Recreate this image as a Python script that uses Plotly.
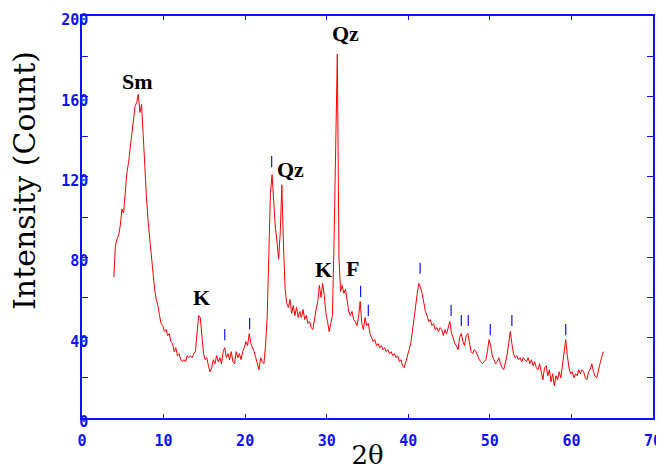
import plotly.graph_objects as go

# XRD pattern: intensity sampled every 0.2 deg 2-theta starting at 3.9
two_theta_start = 3.9
two_theta_step = 0.2
intensity = [
    70, 86, 89, 91, 96, 104, 102, 113, 122, 127,
    134, 141, 149, 155, 157, 161, 152, 156, 141, 124,
    110, 98, 89, 80, 71, 64, 59, 56, 51, 47,
    46, 43, 44, 41, 42, 38, 37, 33, 35, 31,
    32, 29, 28, 29, 28, 31, 30, 31, 30, 32,
    33, 42, 51, 50, 40, 32, 29, 30, 26, 23,
    25, 29, 27, 31, 28, 30, 27, 33, 35, 30,
    32, 29, 33, 28, 27, 33, 30, 32, 29, 33,
    35, 38, 36, 42, 37, 35, 33, 30, 27, 24,
    30, 28, 27, 36, 50, 78, 112, 121, 106, 95,
    88, 79, 92, 116, 86, 64, 57, 55, 59, 52,
    56, 51, 55, 50, 53, 50, 54, 49, 51, 47,
    48, 45, 44, 50, 54, 58, 66, 60, 67, 61,
    52, 48, 43, 47, 51, 88, 145, 181, 80, 63,
    66, 62, 64, 57, 53, 51, 53, 49, 48, 46,
    50, 58, 47, 44, 50, 46, 47, 42, 40, 38,
    39, 36, 37, 35, 36, 34, 35, 33, 34, 32,
    33, 31, 32, 30, 31, 28, 29, 26, 25, 28,
    30, 33, 37, 43, 50, 56, 62, 67, 65, 62,
    58, 53, 51, 48, 49, 46, 47, 44, 45, 43,
    45, 44, 41, 44, 42, 45, 48, 42, 40, 37,
    36, 34, 40, 42, 38, 36, 41, 42, 37, 33,
    32, 34, 33, 31, 29, 28, 27, 28, 29, 33,
    39, 36, 31, 29, 27, 28, 30, 27, 25, 24,
    28, 31, 37, 43, 37, 32, 30, 31, 29, 30,
    28, 30, 29, 28, 30, 27, 29, 26, 28, 25,
    24, 27, 23, 19, 25, 26, 21, 24, 18, 22,
    16, 21, 19, 23, 20, 26, 33, 39, 31, 25,
    22, 23, 20, 22, 21, 24, 22, 24, 23, 20,
    19, 23, 24, 27, 23, 21, 20, 24, 27, 30, 33,
]

# Reflection position markers (blue dashes)
marker_x = [17.5, 20.55, 23.25, 34.15, 35.1, 41.45, 45.25, 46.5, 47.35, 50.05, 52.7, 59.3]
marker_y = [41.5, 47, 127.5, 63, 53.5, 74.5, 53.5, 48.5, 48.5, 44, 48.5, 44]

# Phase labels
label_text = ["Sm", "K", "Qz", "K", "F", "Qz"]
label_x = [6.85, 14.65, 25.6, 29.6, 33.1, 32.3]
label_y = [167.5, 60, 123.5, 74, 74.5, 191.5]

x_ticks = [0, 10, 20, 30, 40, 50, 60, 70]
y_ticks = [0, 40, 80, 120, 160, 200]

BLUE = "#1010ff"

fig = go.Figure()
fig.add_trace(go.Scatter(
    y=intensity, x0=two_theta_start, dx=two_theta_step,
    mode="lines", line=dict(color="#ff0000", width=1),
    showlegend=False, hoverinfo="x+y",
))
fig.add_trace(go.Scatter(
    x=marker_x, y=marker_y, mode="markers",
    marker=dict(symbol="line-ns", size=8, line=dict(color=BLUE, width=1.2)),
    showlegend=False,
))

for t, xx, yy in zip(label_text, label_x, label_y):
    fig.add_annotation(
        x=xx, y=yy, text=t, showarrow=False,
        font=dict(family="Liberation Serif", size=22, color="black", weight="bold"),
    )

# Y axis title
fig.add_annotation(
    xref="paper", yref="paper", x=-0.1016, y=0.592,
    text="Intensity (Count)", textangle=-90, showarrow=False,
    font=dict(family="DejaVu Serif", size=30, color="black"),
    xanchor="center", yanchor="middle",
)

tickfont = dict(family="DejaVu Sans Mono", size=15, color=BLUE, weight="bold")

# page has an 8px body margin, so the figure is sized to fit the window
fig.update_layout(
    width=656, height=462,
    margin=dict(l=74, r=11, t=8, b=52, autoexpand=False),
    paper_bgcolor="white", plot_bgcolor="white",
    xaxis=dict(
        range=[0, 70], tickvals=x_ticks, ticks="inside", ticklen=4,
        tickcolor=BLUE, tickwidth=1, showline=True, linecolor=BLUE, linewidth=1.5,
        mirror="allticks", showgrid=False, zeroline=False, automargin=False,
        tickfont=tickfont, ticklabelstandoff=8,
        title=dict(text="2θ", font=dict(family="DejaVu Serif", size=26, color="black"), standoff=12),
    ),
    yaxis=dict(
        range=[0, 200], tickvals=y_ticks, ticks="inside", ticklen=6,
        tickcolor=BLUE, tickwidth=1, showline=True, linecolor=BLUE, linewidth=1.5,
        mirror="allticks", showgrid=False, zeroline=False, automargin=False,
        tickfont=tickfont, ticklabelstandoff=-11, ticklabelshift=4,
        minor=dict(dtick=20, ticks="inside", ticklen=6, tickcolor=BLUE, showgrid=False),
    ),
)

fig.write_html("out.html")
